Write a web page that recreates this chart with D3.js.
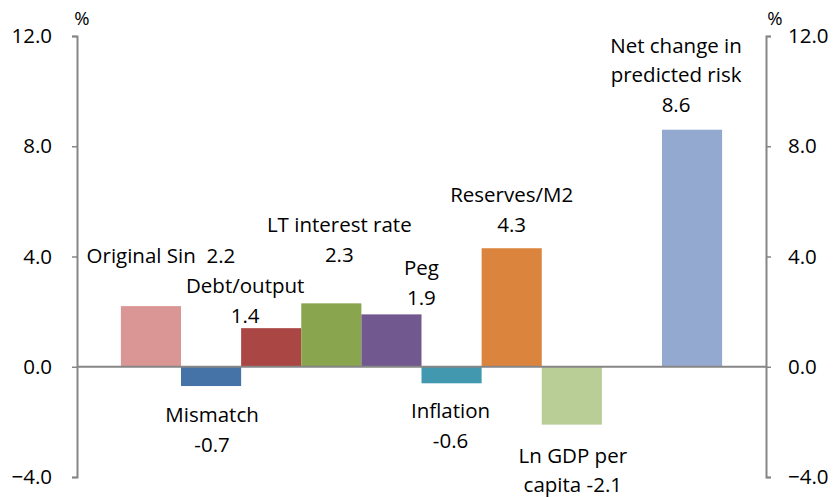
<!DOCTYPE html>
<html>
<head>
<meta charset="utf-8">
<script src="https://cdn.jsdelivr.net/npm/d3@7"></script>
<style>
    body { margin: 0; background: #fff; }
    text { font-family: 'Open Sans', Lato, sans-serif; fill: #000; }
</style>
</head>
<body>
<div id="chart"></div>
<script>
// data
const categories = ['Original Sin', 'Mismatch', 'Debt/output', 'LT interest rate', 'Peg',
    'Inflation', 'Reserves/M2', 'Ln GDP per capita', '', 'Net change in predicted risk'];
const values = [2.2, -0.7, 1.4, 2.3, 1.9, -0.6, 4.3, -2.1, null, 8.6];
const labelLines = [
    ['Original Sin\u00a0 2.2'],
    ['Mismatch', '-0.7'],
    ['Debt/output', '1.4'],
    ['LT interest rate', '2.3'],
    ['Peg', '1.9'],
    ['Inflation', '-0.6'],
    ['Reserves/M2', '4.3'],
    ['Ln GDP per', 'capita -2.1'],
    [],
    ['Net change in', 'predicted risk', '8.6']
];
const yTicks = [-4, 0, 4, 8, 12];

// styles / layout (kept apart from the data)
const colors = ['#d99694', '#4572a7', '#aa4643', '#89a54e', '#71588f',
    '#4198af', '#db843d', '#b9cd96', 'none', '#93a9cf'];
// label offsets: dx from bar centre, dy of first baseline from bar end
const labelLayout = [
    {dx: 10, dy: -43}, {dx: 1, dy: 36}, {dx: -26, dy: -35}, {dx: 8, dy: -71},
    {dx: 30, dy: -39}, {dx: -1, dy: 35}, {dx: 0, dy: -46}, {dx: 1, dy: 38},
    {dx: 0, dy: 0}, {dx: -16, dy: -77}
];
const lineHeight = 29.5;
const fontSize = '20.5px';

const width = 833, height = 497;
const plot = {left: 77, right: 766, top: 36, bottom: 477};

const svg = d3.select('#chart')
  .append('svg')
    .attr('width', width)
    .attr('height', height);

const x = d3.scaleBand()
    .domain(d3.range(categories.length))
    .range([plot.left, plot.right])
    .paddingInner(0)
    .paddingOuter(0.73);

const y = d3.scaleLinear()
    .domain([-4, 12])
    .range([plot.bottom, plot.top]);

// bars
svg.append('g')
  .selectAll('rect')
  .data(values.map((v, i) => ({v, i})).filter((d) => d.v !== null))
  .enter()
  .append('rect')
    .attr('x', (d) => x(d.i))
    .attr('width', x.bandwidth())
    .attr('y', (d) => y(Math.max(0, d.v)))
    .attr('height', (d) => Math.abs(y(d.v) - y(0)))
    .attr('fill', (d) => colors[d.i]);

// zero line
svg.append('line')
    .attr('x1', plot.left)
    .attr('x2', plot.right)
    .attr('y1', y(0))
    .attr('y2', y(0))
    .attr('stroke', '#868686')
    .attr('stroke-width', 2);

// axes
const fmt = d3.format('.1f');
const leftAxis = svg.append('g')
    .attr('transform', `translate(${plot.left},0)`)
    .call(d3.axisLeft(y).tickValues(yTicks).tickFormat(fmt).tickSize(5).tickPadding(20));
const rightAxis = svg.append('g')
    .attr('transform', `translate(${plot.right},0)`)
    .call(d3.axisRight(y).tickValues(yTicks).tickFormat(fmt).tickSize(5).tickPadding(17));

[leftAxis, rightAxis].forEach((ax) => {
    ax.select('.domain').attr('stroke', '#868686').attr('stroke-width', 2);
    ax.selectAll('.tick line').attr('stroke', '#868686').attr('stroke-width', 1.5);
    ax.selectAll('.tick text')
        .style('font-family', "'Open Sans', sans-serif")
        .style('font-size', fontSize)
        .attr('fill', '#000');
});

// % units
svg.append('text').attr('x', 82).attr('y', 25).attr('text-anchor', 'middle')
    .style('font-size', '18.5px').text('%');
svg.append('text').attr('x', 775).attr('y', 25).attr('text-anchor', 'middle')
    .style('font-size', '18.5px').text('%');

// bar labels
const labels = svg.append('g');
labelLines.forEach((lines, i) => {
    if (!lines.length) return;
    const v = values[i];
    const cx = x(i) + x.bandwidth() / 2 + labelLayout[i].dx;
    const base = y(v) + labelLayout[i].dy;
    const t = labels.append('text')
        .attr('text-anchor', 'middle')
        .style('font-size', fontSize);
    lines.forEach((line, j) => {
        t.append('tspan')
            .attr('x', cx)
            .attr('y', base + j * lineHeight)
            .text(line);
    });
});
</script>
</body>
</html>
